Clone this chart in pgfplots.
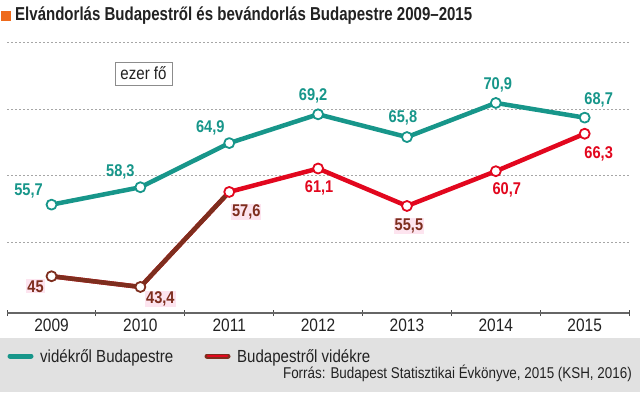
\documentclass[border=0pt]{standalone}
\usepackage{pgfplots}
\pgfplotsset{compat=1.18}
\usepackage{fontspec}
\setmainfont{Liberation Sans}[FakeStretch=0.86]
\usepackage{graphicx}
\definecolor{teal1}{HTML}{17968A}
\definecolor{red1}{HTML}{E2071E}
\definecolor{brown1}{HTML}{7E2E1E}
\definecolor{pink1}{HTML}{FDE4EF}
\definecolor{orange1}{HTML}{EE6A1C}
\definecolor{legbg}{HTML}{E1E1E1}
\definecolor{txt}{HTML}{222222}
\begin{document}
\begin{tikzpicture}[x=1pt,y=1pt,
  lbl/.style={font=\fontsize{17}{18}\selectfont\bfseries, inner sep=1pt, anchor=center}]
\fill[white] (0,0) rectangle (640,392);
\useasboundingbox (0,0) rectangle (640,392);
\fill[legbg] (0,0) rectangle (640,54);
\fill[orange1] (1,371) rectangle (11,380.5);
\node[anchor=base west, inner sep=0, text=txt] at (15,371.3) {\resizebox{457pt}{\height}{\fontsize{18.7}{20}\selectfont\bfseries Elvándorlás Budapestről és bevándorlás Budapestre 2009–2015}};
\begin{axis}[at={(8,118)}, anchor=south west, scale only axis,
  width=622pt, height=271pt,
  xmin=-0.5, xmax=6.5, ymin=39.5, ymax=80,
  clip=false,
  axis x line*=bottom, axis y line*=left,
  y axis line style={draw=none},
  x axis line style={-, draw=black!60, line width=1.2pt},
  ytick={50,60,70,80}, yticklabels={}, ytick style={draw=none},
  ymajorgrids, grid style={draw=black!35, line width=0.9pt, dash pattern=on 1.5pt off 2.5pt},
  xtick={0,...,6}, xticklabels={2009,2010,2011,2012,2013,2014,2015},
  major x tick style={draw=none},
  minor xtick={-0.5,0.5,...,6.5},
  minor x tick style={draw=black!70, line width=1pt},
  minor tick length=6pt, tick align=center,
  xticklabel style={font=\fontsize{18}{19}\selectfont, text=txt},
  line join=round,
]
\addplot[teal1, line width=4.5pt, mark=*, mark size=5pt, mark options={fill=white, draw=teal1, line width=1.8pt}]
  coordinates {(0,55.7)(1,58.3)(2,64.9)(3,69.2)(4,65.8)(5,70.9)(6,68.7)};
\addplot[red1, line width=4.5pt, no marks]
  coordinates {(0,45)(1,43.4)(2,57.6)(3,61.1)(4,55.5)(5,60.7)(6,66.3)};
\addplot[brown1, line width=4.5pt, no marks]
  coordinates {(0,45)(1,43.4)(2,57.6)};
\addplot[only marks, mark=*, mark size=5pt, mark options={fill=white, draw=red1, line width=1.8pt}]
  coordinates {(2,57.6)(3,61.1)(4,55.5)(5,60.7)(6,66.3)};
\addplot[only marks, mark=*, mark size=5pt, mark options={fill=white, draw=brown1, line width=1.8pt}]
  coordinates {(0,45)(1,43.4)};
% teal labels
\node[lbl, text=teal1, xshift=-23pt, yshift=14pt] at (axis cs:0,55.7) {55,7};
\node[lbl, text=teal1, xshift=-20pt, yshift=15pt] at (axis cs:1,58.3) {58,3};
\node[lbl, text=teal1, xshift=-19pt, yshift=15pt] at (axis cs:2,64.9) {64,9};
\node[lbl, text=teal1, xshift=-5pt, yshift=18pt] at (axis cs:3,69.2) {69,2};
\node[lbl, text=teal1, xshift=-4pt, yshift=19pt] at (axis cs:4,65.8) {65,8};
\node[lbl, text=teal1, xshift=2pt, yshift=18pt] at (axis cs:5,70.9) {70,9};
\node[lbl, text=teal1, xshift=14pt, yshift=18pt] at (axis cs:6,68.7) {68,7};
% red labels
\node[lbl, text=brown1, fill=pink1, xshift=-16pt, yshift=-10pt] at (axis cs:0,45) {45};
\node[lbl, text=brown1, fill=pink1, xshift=20pt, yshift=-12pt] at (axis cs:1,43.4) {43,4};
\node[lbl, text=brown1, fill=pink1, xshift=17pt, yshift=-20pt] at (axis cs:2,57.6) {57,6};
\node[lbl, text=red1, xshift=1pt, yshift=-19pt] at (axis cs:3,61.1) {61,1};
\node[lbl, text=brown1, fill=pink1, xshift=2pt, yshift=-20pt] at (axis cs:4,55.5) {55,5};
\node[lbl, text=red1, xshift=11pt, yshift=-19pt] at (axis cs:5,60.7) {60,7};
\node[lbl, text=red1, xshift=14pt, yshift=-20pt] at (axis cs:6,66.3) {66,3};
\end{axis}
% unit box
\node[draw=black!45, fill=white, line width=0.8pt, minimum width=57pt, minimum height=23pt, inner sep=0, text=txt,
  font=\fontsize{17.5}{19}\selectfont] at (143.5,318.5) {ezer fő};
% legend
\draw[teal1, line width=5pt, line cap=round] (10,36) -- (31,36);
\node[anchor=base west, inner sep=0, text=txt, font=\fontsize{17.5}{19}\selectfont] at (40,30) {vidékről Budapestre};
\draw[brown1, line width=5pt, line cap=round] (207,36) -- (228,36);
\draw[red1, line width=2.6pt, line cap=round] (208,36) -- (227,36);
\node[anchor=base west, inner sep=0, text=txt, font=\fontsize{17.5}{19}\selectfont] at (237,30) {Budapestről vidékre};
\node[anchor=base east, inner sep=0, text=txt, font=\fontsize{15.6}{18}\selectfont] at (632,14) {Forrás: Budapest Statisztikai Évkönyve, 2015 (KSH, 2016)};
\end{tikzpicture}
\end{document}
